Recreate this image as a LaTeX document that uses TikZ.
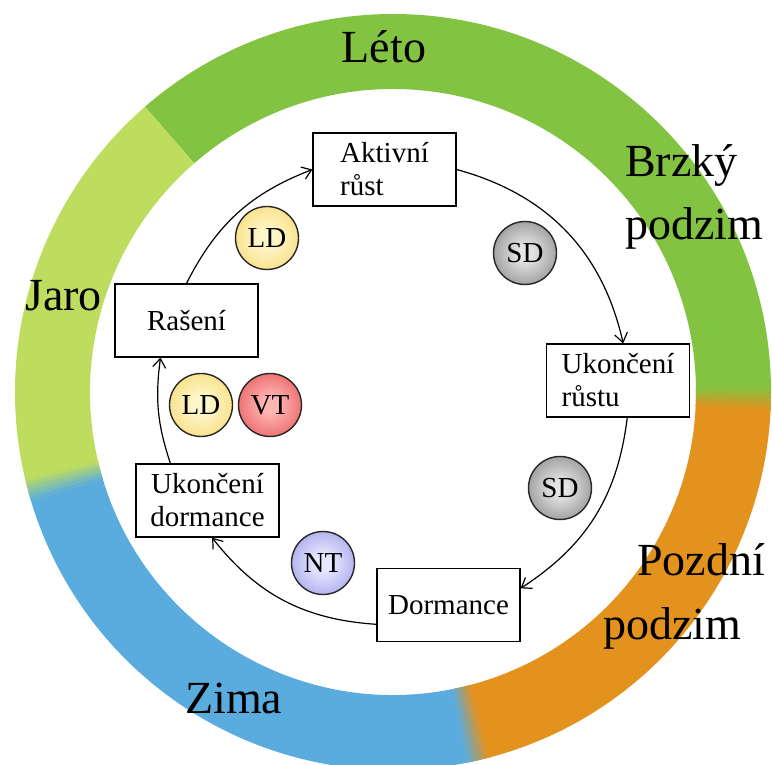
\documentclass[tikz,border=0pt]{standalone}
\usepackage{fontspec}
\setmainfont{Liberation Serif}
\usetikzlibrary{arrows.meta}
\definecolor{summer}{HTML}{82C341}
\definecolor{spring}{HTML}{BEDD5F}
\definecolor{winter}{HTML}{5AACDE}
\definecolor{autumn}{HTML}{E3921E}
\definecolor{ldin}{HTML}{FFF7CC}
\definecolor{ldout}{HTML}{F2CD4A}
\definecolor{sdin}{HTML}{E4E4E4}
\definecolor{sdout}{HTML}{5C5C5C}
\definecolor{vtin}{HTML}{FFB4B4}
\definecolor{vtout}{HTML}{DC2E2E}
\definecolor{ntin}{HTML}{E8E8FF}
\definecolor{ntout}{HTML}{7C7CE0}
\pgfdeclareradialshading{ldshade}{\pgfpoint{0bp}{0bp}}{color(0bp)=(ldin); color(6bp)=(ldin); color(46bp)=(ldout); color(50bp)=(ldout)}
\pgfdeclareradialshading{sdshade}{\pgfpoint{0bp}{0bp}}{color(0bp)=(sdin); color(6bp)=(sdin); color(46bp)=(sdout); color(50bp)=(sdout)}
\pgfdeclareradialshading{vtshade}{\pgfpoint{0bp}{0bp}}{color(0bp)=(vtin); color(6bp)=(vtin); color(46bp)=(vtout); color(50bp)=(vtout)}
\pgfdeclareradialshading{ntshade}{\pgfpoint{0bp}{0bp}}{color(0bp)=(ntin); color(6bp)=(ntin); color(46bp)=(ntout); color(50bp)=(ntout)}
\begin{document}
\begin{tikzpicture}[x=1pt,y=1pt,
  season/.style={font=\fontsize{46}{50}\selectfont, inner sep=0pt, anchor=base west},
  stage/.style={draw, line width=1.2pt, minimum width=143pt, minimum height=73pt, inner sep=0pt,
    font=\fontsize{29}{33}\selectfont},
  ball/.style={circle, draw=black!85, line width=1.4pt, minimum size=63pt, inner sep=0pt,
    font=\fontsize{29}{33}\selectfont},
  cyc/.style={line width=1.2pt, -{Straight Barb[length=9pt,width=13pt]}}
]
\useasboundingbox (0,0) rectangle (772,764);
\fill[white] (0,0) rectangle (772,764);
% ring of seasons
\begin{scope}[shift={(393,372)}]
  \fill[summer] (-1:378) arc[start angle=-1,end angle=131,radius=378] -- (131:303) arc[start angle=131,end angle=-1,radius=303] -- cycle;
  \fill[spring] (131:378) arc[start angle=131,end angle=195,radius=378] -- (195:303) arc[start angle=195,end angle=131,radius=303] -- cycle;
  \fill[winter] (195:378) arc[start angle=195,end angle=283,radius=378] -- (283:303) arc[start angle=283,end angle=195,radius=303] -- cycle;
  \fill[autumn] (283:378) arc[start angle=283,end angle=359,radius=378] -- (359:303) arc[start angle=359,end angle=283,radius=303] -- cycle;
  \foreach \k in {0,...,5}{
    \pgfmathsetmacro\a{193.2+\k*0.6}
    \pgfmathsetmacro\b{\a+0.65}
    \pgfmathsetmacro\p{100-\k*16.6-8}
    \fill[spring!\p!winter] (\a:378) arc[start angle=\a,end angle=\b,radius=378] -- (\b:303) arc[start angle=\b,end angle=\a,radius=303] -- cycle;
    \pgfmathsetmacro\c{281.2+\k*0.6}
    \pgfmathsetmacro\d{\c+0.65}
    \fill[winter!\p!autumn] (\c:378) arc[start angle=\c,end angle=\d,radius=378] -- (\d:303) arc[start angle=\d,end angle=\c,radius=303] -- cycle;
    \pgfmathsetmacro\e{-2.8+\k*0.6}
    \pgfmathsetmacro\f{\e+0.65}
    \fill[autumn!\p!summer] (\e:378) arc[start angle=\e,end angle=\f,radius=378] -- (\f:303) arc[start angle=\f,end angle=\e,radius=303] -- cycle;
  }
\end{scope}
% season labels
\node[season, anchor=base] (leto) at (384,701) {Léto};
\node[season] (brzky) at (625,587) {Brzký};
\node[season] (podzim1) at (625,524) {podzim};
\node[season] (jaro) at (25,453) {Jaro};
\node[season] (pozdni) at (637,188) {Pozdní};
\node[season] (podzim2) at (603,124) {podzim};
\node[season] (zima) at (185,50) {Zima};
% stages
\node[stage, align=left] (akt) at (384.5,594.5) {Aktivní\\růst};
\node[stage, align=left] (ukr) at (618,383.5) {Ukončení\\růstu};
\node[stage] (dorm) at (448.5,159) {Dormance};
\node[stage, align=center] (ukd) at (207.5,263.5) {Ukončení\\dormance};
\node[stage] (ras) at (186.5,443.5) {Rašení};
% cycle connectors
\draw[cyc] (akt.east) to[bend left=31] (ukr.82);
\draw[cyc] (ukr.-76) to[bend left=25] (dorm.13);
\draw[cyc] (dorm.195) to[bend left=24] (ukd.-83);
\draw[cyc] (ukd.135) to[bend left=13] (ras.235);
\draw[cyc] (ras.north) to[bend left=21] (akt.west);
% factors
\node[ball, shading=ldshade] (ld1) at (267,526) {LD};
\node[ball, shading=sdshade] (sd1) at (525,511) {SD};
\node[ball, shading=ldshade] (ld2) at (201,359) {LD};
\node[ball, shading=vtshade] (vt) at (270,359) {VT};
\node[ball, shading=sdshade] (sd2) at (560,276) {SD};
\node[ball, shading=ntshade] (nt) at (323,201) {NT};
\end{tikzpicture}
\end{document}
